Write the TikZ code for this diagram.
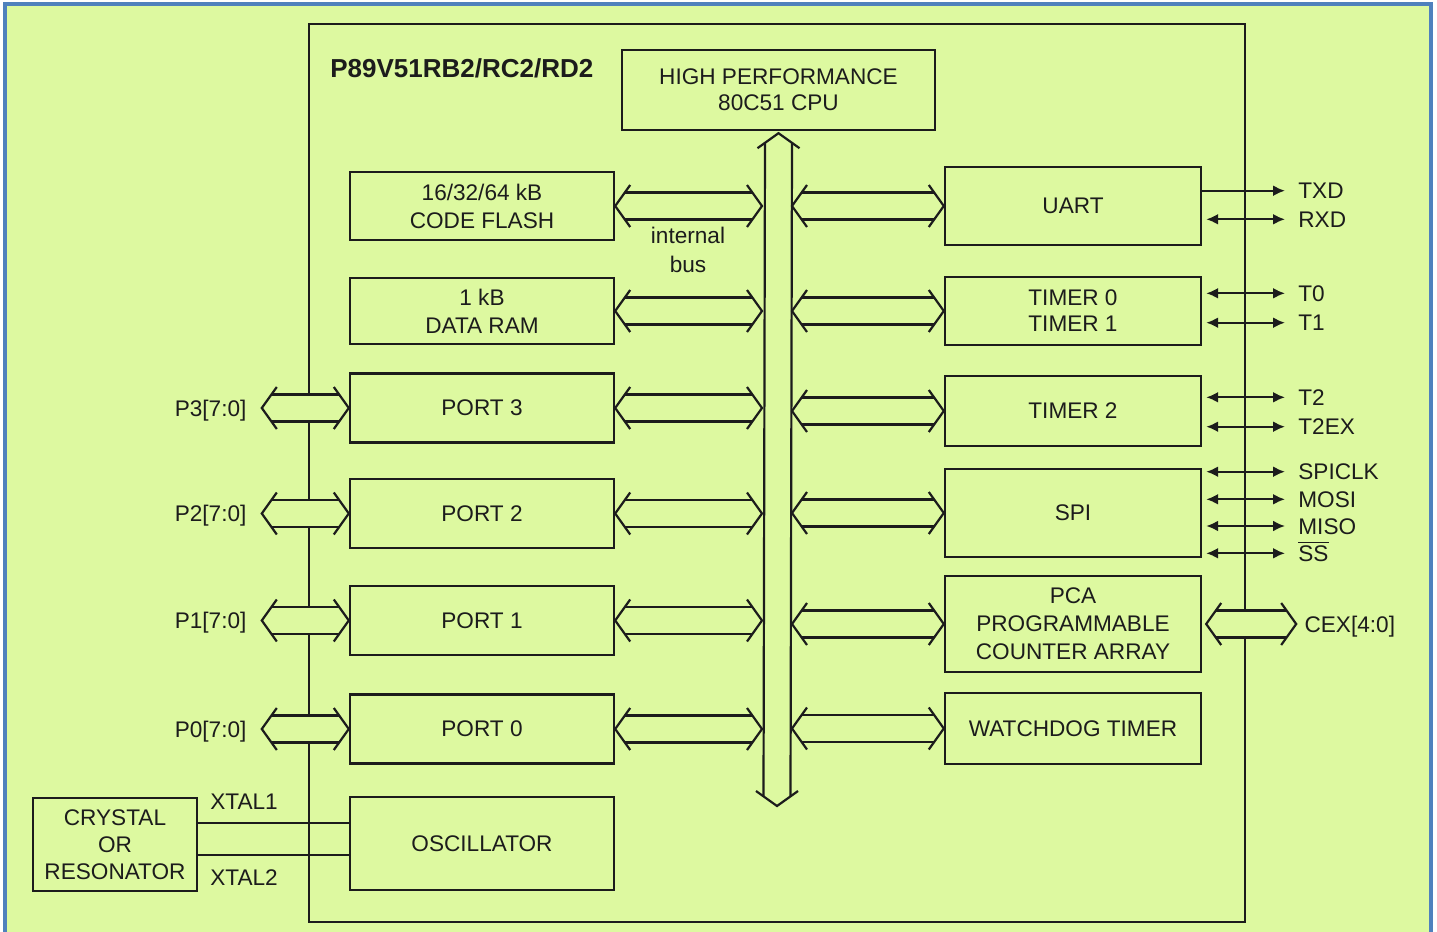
\documentclass[tikz,border=0pt]{standalone}
\usepackage{fontspec}
\setmainfont{Liberation Sans}
\usetikzlibrary{positioning,arrows.meta}
\definecolor{chipbg}{HTML}{DDF9A0}
\definecolor{chipink}{HTML}{1C1C1C}
\definecolor{frameblue}{HTML}{4F81BD}
\newcommand{\blkfont}{\fontsize{11.3}{14}\selectfont}
% sizes of the hollow bus arrows
\newcommand{\busW}{6.75pt}
\newcommand{\busH}{10.5pt}
\newcommand{\busL}{7.5pt}
\newcommand{\busM}{4.8pt}
\newcommand{\hbus}[2]{%
  \coordinate (hbA) at #1;
  \coordinate (hbB) at #2;
  \fill[chipbg] (hbA) -- ([shift={(\busM,\busW)}]hbA) -- ([shift={(-\busM,\busW)}]hbB) -- (hbB)
    -- ([shift={(-\busM,-\busW)}]hbB) -- ([shift={(\busM,-\busW)}]hbA) -- cycle;
  \draw[busline] ([shift={(\busL,\busH)}]hbA) -- (hbA) -- ([shift={(\busL,-\busH)}]hbA);
  \draw[busline] ([shift={(-\busL,\busH)}]hbB) -- (hbB) -- ([shift={(-\busL,-\busH)}]hbB);
  \draw[busline] ([shift={(\busM,\busW)}]hbA) -- ([shift={(-\busM,\busW)}]hbB);
  \draw[busline] ([shift={(\busM,-\busW)}]hbA) -- ([shift={(-\busM,-\busW)}]hbB);
}
\newcommand{\vbus}[2]{%
  \coordinate (vbA) at #1;
  \coordinate (vbB) at #2;
  \fill[chipbg] (vbA) -- ([shift={(\busW,-\busM)}]vbA) -- ([shift={(\busW,\busM)}]vbB) -- (vbB)
    -- ([shift={(-\busW,\busM)}]vbB) -- ([shift={(-\busW,-\busM)}]vbA) -- cycle;
  \draw[busline] ([shift={(-\busH,-\busL)}]vbA) -- (vbA) -- ([shift={(\busH,-\busL)}]vbA);
  \draw[busline] ([shift={(-\busH,\busL)}]vbB) -- (vbB) -- ([shift={(\busH,\busL)}]vbB);
  \draw[busline] ([shift={(-\busW,-\busM)}]vbA) -- ([shift={(-\busW,\busM)}]vbB);
  \draw[busline] ([shift={(\busW,-\busM)}]vbA) -- ([shift={(\busW,\busM)}]vbB);
}
\tikzset{
  blk/.style={draw=chipink, line width=1.2pt, fill=chipbg, font=\blkfont, text=chipink, align=center, inner sep=2pt},
  lblk/.style={blk, minimum width=132pt},
  rblk/.style={blk, minimum width=128pt},
  busline/.style={draw=chipink, line width=1.1pt},
  wire/.style={draw=chipink, line width=1.1pt},
  pinlabel/.style={font=\blkfont, text=chipink, inner sep=0pt, text height=8.1pt, text depth=0pt, anchor=west},
  pinwire/.style={wire, shorten >=6.5pt, >={Latex[length=6pt,width=5.5pt]}},
}
\begin{document}
\begin{tikzpicture}[x=0.5pt, y=-0.5pt]

  \useasboundingbox (0,0) rectangle (1437,932);
  \fill[white] (0,0) rectangle (1437,932);
  \fill[chipbg] (5,4) rectangle (1431,940);
  \draw[frameblue, line width=1.7pt] (5,940) -- (5,4) -- (1431,4) -- (1431,940);

  % chip outline and title
  \draw[chipink, line width=1.2pt] (309,24) rectangle (1245,922);
  \node[anchor=west, inner sep=0pt, font=\fontsize{13}{15}\selectfont\bfseries, text=chipink] (title) at (330,68) {P89V51RB2/RC2/RD2};

  % blocks
  \node[blk, minimum width=156.5pt, minimum height=40pt, font=\fontsize{11.3}{13}\selectfont] (cpu) at (778.5,90) {HIGH PERFORMANCE\\80C51 CPU};
  \node[lblk, minimum height=34pt] (flash) at (482,206) {16/32/64 kB\\CODE FLASH};
  \node[lblk, minimum height=33pt] (ram) at (482,311) {1 kB\\DATA RAM};
  \foreach \p/\yy/\n in {port3/408/3, port2/513.5/2, port1/620.5/1, port0/729/0} {
    \node[lblk, minimum height=34.5pt] (\p) at (482,\yy) {PORT \n};
  }
  \node[lblk, minimum height=46.5pt] (osc) at (482,843.5) {OSCILLATOR};
  \node[blk, minimum width=82pt, minimum height=46.5pt, font=\fontsize{11.3}{13.5}\selectfont] (xtal) at (115,844.5) {CRYSTAL\\OR\\RESONATOR};

  \node[rblk, minimum height=39pt] (uart) at (1073,206) {UART};
  \node[rblk, minimum height=34pt, font=\fontsize{11.3}{13}\selectfont] (tmr) at (1073,311) {TIMER 0\\TIMER 1};
  \node[rblk, minimum height=35pt] (tmrb) at (1073,411) {TIMER 2};
  \node[rblk, minimum height=44pt] (spi) at (1073,513) {SPI};
  \node[rblk, minimum height=48pt] (pca) at (1073,624) {PCA\\PROGRAMMABLE\\COUNTER ARRAY};
  \node[rblk, minimum height=35.5pt] (wdt) at (1073,728.5) {WATCHDOG TIMER};

  % internal bus
  \coordinate (busleft) at (762,0);
  \coordinate (busright) at (792,0);
  \coordinate (busend) at (777,806);
  \vbus{([yshift=-1pt]cpu.south)}{(busend)}
  \node[font=\fontsize{11.3}{14.5}\selectfont, text=chipink, align=center] (buslbl) at (688,250) {internal\\bus};
  \foreach \b in {flash,ram,port3,port2,port1,port0} {
    \hbus{(\b.east)}{(\b.east -| busleft)}
  }
  \foreach \b in {uart,tmr,tmrb,spi,pca,wdt} {
    \hbus{(\b.west -| busright)}{(\b.west)}
  }

  % port pins
  \foreach \p/\n in {port3/3, port2/2, port1/1, port0/0} {
    \node[pinlabel, left=51pt of \p] (pp\n) {P\n[7:0]};
    \hbus{([xshift=7.5pt]pp\n.east)}{(\p.west)}
  }
  \node[pinlabel, right=51pt of pca] (cex) {CEX[4:0]};
  \hbus{([xshift=2pt]pca.east)}{([xshift=-4pt]cex.west)}

  % serial and timer pins
  \foreach \blk/\yy/\txt/\arr [count=\k] in {uart/190.7/TXD/1, uart/219.3/RXD/2, tmr/293.3/T0/2, tmr/322.7/T1/2,
      tmrb/397.3/T2/2, tmrb/426.7/T2EX/2, spi/471.7/SPICLK/2, spi/499.3/MOSI/2, spi/526/MISO/2,
      spi/553.3/{$\overline{\hbox{SS}}$}/2} {
    \node[pinlabel] (pin\k) at (1298,\yy) {\txt};
    \ifnum\arr=1
      \draw[pinwire, ->] (\blk.east |- pin\k.west) -- (pin\k.west);
    \else
      \draw[pinwire, <->, shorten <=2pt] (\blk.east |- pin\k.west) -- (pin\k.west);
    \fi
  }

  % crystal connections
  \coordinate[yshift=10.6pt] (xt1) at (xtal.east);
  \coordinate[yshift=-5.25pt] (xt2) at (xtal.east);
  \draw[wire] (xt1) -- (xt1 -| osc.west);
  \draw[wire] (xt2) -- (xt2 -| osc.west);
  \node[pinlabel, anchor=center] (xl1) at (244,801) {XTAL1};
  \node[pinlabel, anchor=center] (xl2) at (244,877) {XTAL2};

\end{tikzpicture}
\end{document}
